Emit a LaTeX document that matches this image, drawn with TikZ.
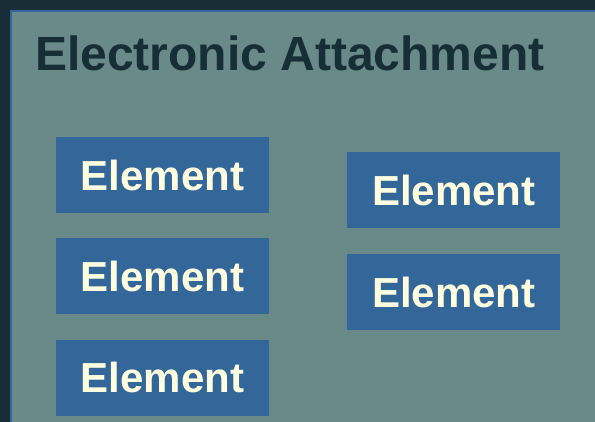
\documentclass[tikz,border=0pt]{standalone}
\usepackage{fontspec}
\setmainfont{Liberation Sans}
\usetikzlibrary{positioning}

\definecolor{darkbg}{HTML}{172E36}
\definecolor{panelbg}{HTML}{6A8A8A}
\definecolor{panelline}{HTML}{3A64A0}
\definecolor{elemblue}{HTML}{336699}
\definecolor{elemtext}{HTML}{FFFDE0}

\begin{document}
\begin{tikzpicture}[
    x=1pt, y=1pt,
    node distance=25pt,
    element/.style={
        rectangle, fill=elemblue, text=elemtext, inner sep=0pt,
        minimum width=213pt, minimum height=76pt,
        font=\fontsize{42}{48}\selectfont\bfseries
    },
    heading/.style={
        text=darkbg, inner sep=0pt,
        font=\fontsize{48}{56}\selectfont\bfseries
    }
]
    \fill [darkbg] (0,0) rectangle (595,-422);
    \useasboundingbox (0,0) rectangle (595,-422);
    \draw [panelline, line width=2pt, fill=panelbg] (11,-11) rectangle (610,-440);

    \node (title) [heading, anchor=base west] at (35,-71) {Electronic Attachment};

    \node (e1) [element] at (162.5,-175) {Element};
    \node (e2) [element, below=of e1] {Element};
    \node (e3) [element, below=of e2] {Element};

    \node (e4) [element, right=78pt of e1, yshift=-15pt] {Element};
    \node (e5) [element, below=26pt of e4] {Element};
\end{tikzpicture}
\end{document}
